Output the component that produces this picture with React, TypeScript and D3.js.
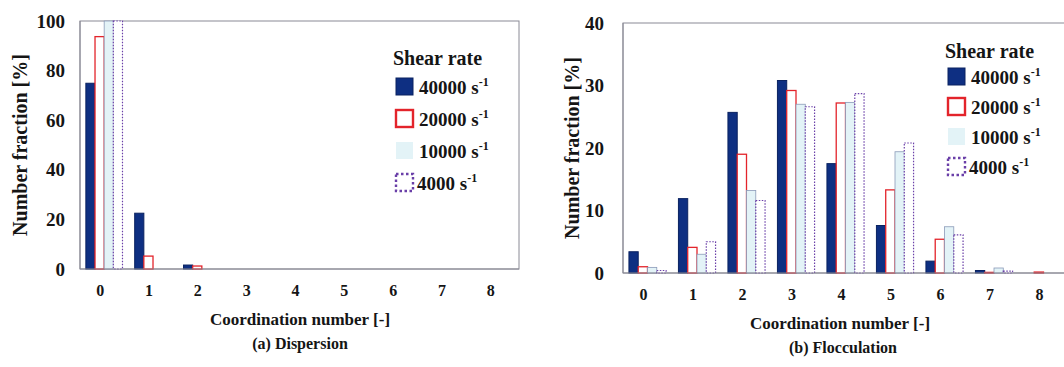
import React from "react";
import * as d3 from "d3";

const categories = ["0", "1", "2", "3", "4", "5", "6", "7", "8"];
const seriesNames = ["40000", "20000", "10000", "4000"];

// Panel (a) Dispersion
const dispersion40000 = [74.9, 22.5, 1.6, 0, 0, 0, 0, 0, 0];
const dispersion20000 = [93.7, 5.2, 1.2, 0, 0, 0, 0, 0, 0];
const dispersion10000 = [100, 0, 0, 0, 0, 0, 0, 0, 0];
const dispersion4000 = [100, 0, 0, 0, 0, 0, 0, 0, 0];

// Panel (b) Flocculation
const flocculation40000 = [3.4, 11.9, 25.7, 30.8, 17.5, 7.6, 1.9, 0.4, 0];
const flocculation20000 = [1.0, 4.1, 19.0, 29.2, 27.2, 13.3, 5.4, 0.1, 0.15];
const flocculation10000 = [0.9, 3.0, 13.2, 27.0, 27.3, 19.4, 7.4, 0.8, 0];
const flocculation4000 = [0.4, 5.0, 11.6, 26.6, 28.7, 20.8, 6.1, 0.3, 0];

const ticksA = [0, 20, 40, 60, 80, 100];
const ticksB = [0, 10, 20, 30, 40];

const FONT = "'Liberation Serif', 'Times New Roman', serif";
const INK = "#151515";

const styles = [
  { fill: "#0e2f82", stroke: "#0a2260", dash: undefined as string | undefined, sw: 1 },
  { fill: "#ffffff", stroke: "#e3242b", dash: undefined, sw: 1.3 },
  { fill: "#e3f3f7", stroke: "#8a9ab8", dash: undefined, sw: 0.8 },
  { fill: "#ffffff", stroke: "#6a3fa8", dash: "1.5,1.5", sw: 1.2 },
];

type PanelProps = {
  data: number[][];
  yMax: number;
  ticks: number[];
  left: number;
  right: number;
  top: number;
  bottom: number;
  yLabelX: number;
  tickLabelX: number;
  xTitleX: number;
  subtitle: string;
  subtitleX: number;
  subtitleY: number;
  legendX: number;
  legendTitleY: number;
  legendY0: number;
  legendStep: number;
  clipId: string;
};

function Panel(p: PanelProps) {
  const x = d3.scaleBand<string>().domain(categories).range([p.left, p.right]).paddingInner(0.25).paddingOuter(0.12);
  const xs = d3.scaleBand<string>().domain(seriesNames).range([0, x.bandwidth()]).padding(0);
  const y = d3.scaleLinear().domain([0, p.yMax]).range([p.bottom, p.top]);
  return (
    <g>
      <defs>
        <clipPath id={p.clipId}>
          <rect x={p.left} y={p.top - 2} width={p.right - p.left} height={p.bottom - p.top + 4} />
        </clipPath>
      </defs>
      <rect x={p.left} y={p.top} width={p.right - p.left} height={p.bottom - p.top} fill="#ffffff" stroke="#8a8a95" strokeWidth={1} />
      <g clipPath={`url(#${p.clipId})`}>
        {p.data.map((series, si) =>
          series.map((v, ci) =>
            v > 0 ? (
              <rect
                key={`${si}-${ci}`}
                x={(x(categories[ci]) as number) + (xs(seriesNames[si]) as number)}
                y={y(v)}
                width={xs.bandwidth()}
                height={p.bottom - y(v)}
                fill={styles[si].fill}
                stroke={styles[si].stroke}
                strokeWidth={styles[si].sw}
                strokeDasharray={styles[si].dash}
              />
            ) : null
          )
        )}
      </g>
      <line x1={p.left} x2={p.right} y1={p.bottom} y2={p.bottom} stroke="#8a8a95" strokeWidth={1} />
      <line x1={p.left} x2={p.left} y1={p.top} y2={p.bottom} stroke="#8a8a95" strokeWidth={1} />
      {p.ticks.map((t) => (
        <text key={t} x={p.tickLabelX} y={y(t)} dy="0.35em" textAnchor="end" fontFamily={FONT} fontWeight="bold" fontSize={19} fill={INK}>
          {t}
        </text>
      ))}
      {categories.map((c) => (
        <text key={c} x={(x(c) as number) + x.bandwidth() / 2 - 4} y={p.bottom + 27} textAnchor="middle" fontFamily={FONT} fontWeight="bold" fontSize={16} fill={INK}>
          {c}
        </text>
      ))}
      <text
        transform={`translate(${p.yLabelX},${(p.top + p.bottom) / 2}) rotate(-90)`}
        textAnchor="middle"
        dy="0.35em"
        fontFamily={FONT}
        fontWeight="bold"
        fontSize={20}
        fill={INK}
      >
        Number fraction [%]
      </text>
      <text x={p.xTitleX} y={p.bottom + 56} textAnchor="middle" fontFamily={FONT} fontWeight="bold" fontSize={17} fill={INK}>
        Coordination number [-]
      </text>
      <text x={p.subtitleX} y={p.subtitleY} textAnchor="middle" fontFamily={FONT} fontWeight="bold" fontSize={16} fill={INK}>
        {p.subtitle}
      </text>
      <text x={p.legendX - 2} y={p.legendTitleY} fontFamily={FONT} fontWeight="bold" fontSize={20} fill={INK}>
        Shear rate
      </text>
      {seriesNames.map((s, i) => {
        const cy = p.legendY0 + i * p.legendStep;
        const st = styles[i];
        return (
          <g key={s}>
            <rect
              x={p.legendX + 1}
              y={cy - 9}
              width={17}
              height={17}
              fill={st.fill}
              stroke={i === 2 ? "none" : st.stroke}
              strokeWidth={i === 1 ? 2.4 : i === 3 ? 2.4 : 1}
              strokeDasharray={i === 3 ? "2.5,2.5" : undefined}
            />
            <text x={p.legendX + (i === 3 ? 22 : 24)} y={cy} dy="0.35em" fontFamily={FONT} fontWeight="bold" fontSize={19} fill={INK}>
              {s} s
              <tspan fontSize={12} dy="-8">-1</tspan>
            </text>
          </g>
        );
      })}
    </g>
  );
}

export default function App() {
  return (
    <svg width={1064} height={367} style={{ position: "absolute", left: 0, top: 0, background: "#ffffff" }}>
      <Panel
        data={[dispersion40000, dispersion20000, dispersion10000, dispersion4000]}
        yMax={100}
        ticks={ticksA}
        left={80}
        right={519}
        top={21}
        bottom={269}
        yLabelX={20}
        tickLabelX={65}
        xTitleX={300}
        subtitle="(a) Dispersion"
        subtitleX={300}
        subtitleY={349}
        legendX={395}
        legendTitleY={65}
        legendY0={87}
        legendStep={32}
        clipId="clipA"
      />
      <Panel
        data={[flocculation40000, flocculation20000, flocculation10000, flocculation4000]}
        yMax={40}
        ticks={ticksB}
        left={623}
        right={1068}
        top={23}
        bottom={273}
        yLabelX={572}
        tickLabelX={604}
        xTitleX={840}
        subtitle="(b) Flocculation"
        subtitleX={843}
        subtitleY={353}
        legendX={947}
        legendTitleY={58}
        legendY0={77}
        legendStep={30}
        clipId="clipB"
      />
    </svg>
  );
}
